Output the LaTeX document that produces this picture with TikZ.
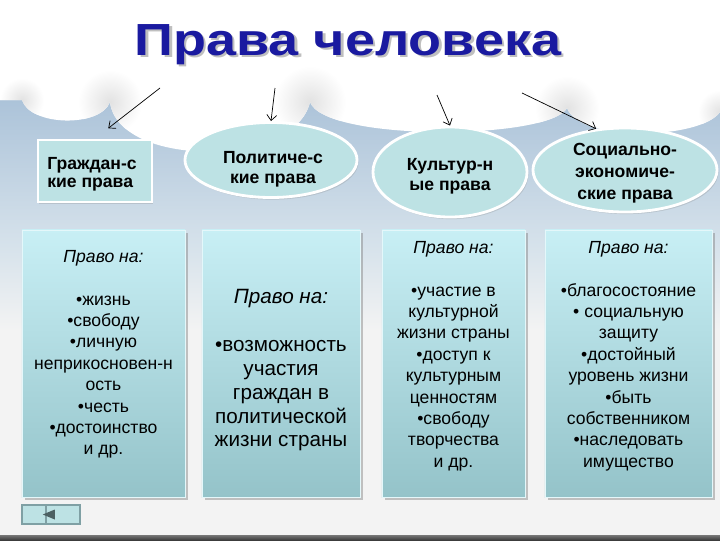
\documentclass[tikz,border=0pt]{standalone}
\usepackage{fontspec}
\setmainfont{Liberation Sans}
\usepackage{xcolor}
\usetikzlibrary{arrows.meta,shapes.geometric,shadows}
\definecolor{SkyTop}{HTML}{A9C1D8}
\definecolor{SkyLow}{HTML}{D6E2EB}
\definecolor{PaleBg}{HTML}{F3F3F3}
\definecolor{CloudShade}{HTML}{E2E2E2}
\definecolor{TitleBlue}{HTML}{1A1AA0}
\definecolor{KindFill}{HTML}{BDE2E4}
\definecolor{CardTop}{HTML}{C8EFF5}
\definecolor{CardBottom}{HTML}{94C3C9}
\definecolor{NavEdge}{HTML}{7FA0A4}
\definecolor{BarDark}{HTML}{3C3C3C}

\begin{document}
\begin{tikzpicture}[
	x=0.025cm, y=-0.025cm, % one unit is one pixel of the slide, y runs down
	% Style for the big heading
	headline/.style={
		font=\bfseries\fontsize{32}{38}\selectfont,
		xscale=1.2,
		anchor=base,
		inner sep=0pt
	},
	% Style for the boxes with the kinds of rights
	kind/.style={
		fill=KindFill,
		draw=white,
		line width=2pt,
		drop shadow={opacity=0.25, shadow xshift=1pt, shadow yshift=-1.5pt}
	},
	kind oval/.style={
		kind,
		ellipse
	},
	% Style for the text on those boxes
	kind text/.style={
		font=\bfseries\fontsize{12.5}{14.5}\selectfont,
		align=center,
		inner sep=0pt
	},
	% Style for the tall cards
	card/.style={
		top color=CardTop,
		bottom color=CardBottom,
		draw=CardTop!50!white,
		line width=0.5pt,
		minimum height=6.675cm,
		drop shadow={opacity=0.45, shadow xshift=1.8pt, shadow yshift=-1.8pt}
	},
	% Style for the lists on the cards
	list/.style={
		font=\fontsize{12.5}{15.2}\selectfont,
		align=center,
		inner sep=0pt,
		anchor=north
	},
	big list/.style={
		list,
		font=\fontsize{14.7}{17}\selectfont
	},
	% Style for the thin arrows
	pointer/.style={
		draw=black,
		line width=0.5pt,
		-{Straight Barb[length=4pt,width=7pt]}
	}
	]
	\useasboundingbox (0,0) rectangle (720,540);
	
	% 1. Background
	\fill[PaleBg] (0,0) rectangle (720,540);
	\shade[top color=SkyTop, bottom color=SkyLow] (0,90) rectangle (720,245);
	\shade[top color=SkyLow, bottom color=PaleBg] (0,245) rectangle (720,330);
	\shade[top color=BarDark!70, bottom color=BarDark] (0,535) rectangle (720,540);
	
	% 2. Cloud
	\begin{scope}
		\clip (0,0) -- (0,100) -- (22,100)
			.. controls (30,126) and (100,128) .. (110,102)
			.. controls (118,168) and (295,168) .. (310,102)
			.. controls (325,142) and (550,140) .. (567,108)
			.. controls (580,142) and (700,140) .. (720,112)
			-- (720,0) -- cycle;
		\fill[white] (0,0) rectangle (720,200);
		\foreach \cx/\cy/\rad in {22/100/22, 110/102/32, 310/102/36, 567/108/32, 720/112/22}
			\shade[inner color=CloudShade, outer color=white] (\cx,\cy) circle [radius=\rad];
	\end{scope}
	
	% 3. Heading
	\node[headline, text=black!25] (title shadow) at (350.5,57.5) {Права человека};
	\node[headline, text=TitleBlue] (title) at (348,55) {Права человека};
	
	% 4. Kinds of rights
	\node[kind, minimum width=2.85cm, minimum height=1.55cm] (civ) at (95,171) {};
	\node[kind oval, minimum width=4.3cm, minimum height=1.875cm] (pol) at (271,160) {};
	\node[kind oval, minimum width=3.85cm, minimum height=2.25cm] (cul) at (450,172) {};
	\node[kind oval, minimum width=4.6cm, minimum height=2.1cm] (soc) at (625,170) {};
	
	\node[kind text, align=left, anchor=west, font=\bfseries\fontsize{12.5}{13}\selectfont] (civ text) at (47,174) {Граждан-с\\кие права};
	\node[kind text] (pol text) at (273,169) {Политиче-с\\кие права};
	\node[kind text] (cul text) at (450,176) {Культур-н\\ые права};
	\node[kind text, font=\bfseries\fontsize{12.5}{15.5}\selectfont] (soc text) at (625,173) {Социально-\\экономиче-\\ские права};
	
	% 5. Arrows from the cloud
	\coordinate (from civ) at (160,88);
	\coordinate (from pol) at (275,88);
	\coordinate (from cul) at (437,95);
	\coordinate (from soc) at (522,93);
	\draw[pointer, shorten >=0.42cm] (from civ) -- (civ.north);
	\draw[pointer] (from pol) -- (pol.north);
	\draw[pointer] (from cul) -- (cul.north);
	\draw[pointer] (from soc) -- (soc.125);
	
	% 6. Cards
	\node[card, minimum width=4.075cm] (card civ) at (103.5,363.5) {};
	\node[card, minimum width=3.95cm] (card pol) at (281,363.5) {};
	\node[card, minimum width=3.575cm] (card cul) at (453.5,363.5) {};
	\node[card, minimum width=4.175cm] (card soc) at (628.5,363.5) {};
	
	\node[list] (list civ) at (103.5,250) {\textit{Право на:}\\[15.2pt]
		•жизнь\\•свободу\\•личную\\неприкосновен-н\\ость\\•честь\\•достоинство\\и др.};
	\node[big list] (list pol) at (281,289) {\textit{Право на:}\\[17pt]
		•возможность\\участия\\граждан в\\политической\\жизни страны};
	\node[list] (list cul) at (453.5,241) {\textit{Право на:}\\[15.2pt]
		•участие в\\культурной\\жизни страны\\•доступ к\\культурным\\ценностям\\•свободу\\творчества\\и др.};
	\node[list] (list soc) at (628.5,241) {\textit{Право на:}\\[15.2pt]
		•благосостояние\\• социальную\\защиту\\•достойный\\уровень жизни\\•быть\\собственником\\•наследовать\\имущество};
	
	% 7. Back button
	\node[draw=NavEdge, fill=KindFill, line width=1.2pt, minimum width=1.45cm, minimum height=0.475cm, inner sep=0pt] (back) at (51,514.5) {};
	\draw[NavEdge, line width=1.2pt] ([xshift=-0.125cm]back.north) -- ([xshift=-0.125cm]back.south);
	\node[isosceles triangle, shape border rotate=180, fill=NavEdge!60!black, minimum height=0.2cm, minimum width=0.25cm, inner sep=0pt] (back tip) at (51.5,514.5) {};
	
\end{tikzpicture}
\end{document}
